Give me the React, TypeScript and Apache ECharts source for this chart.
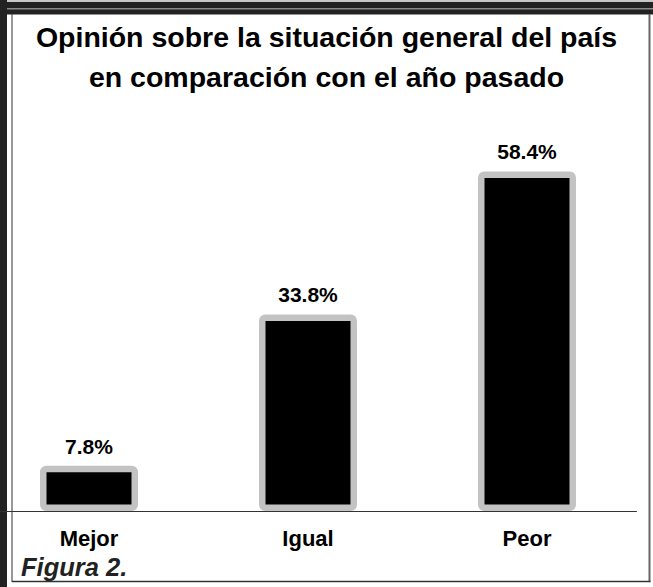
import React, { useEffect, useRef } from "react";
import * as echarts from "echarts";

const titleLines = ["Opinión sobre la situación general del país", "en comparación con el año pasado"];
const categories = ["Mejor", "Igual", "Peor"];
const values = [7.8, 33.8, 58.4];
const footnote = "Figura 2.";

export default function App() {
  const ref = useRef<HTMLDivElement>(null);
  useEffect(() => {
    if (!ref.current) return;
    const chart = echarts.init(ref.current, undefined, { renderer: "svg" });
    chart.setOption({
      animation: false,
      backgroundColor: "#fff",
      title: {
        text: titleLines.join("\n"),
        left: "center",
        top: 12,
        textStyle: {
          fontFamily: "'Liberation Sans', Arial, sans-serif",
          fontWeight: "bold",
          fontSize: 28.5,
          lineHeight: 40,
          color: "#000",
        },
      },
      grid: { left: -20.5, right: 16.5, top: 104, bottom: 76, outerBoundsMode: "none" },
      xAxis: {
        type: "category",
        data: categories,
        axisLine: { show: true, lineStyle: { color: "#333", width: 1 } },
        axisTick: { show: false },
        axisLabel: {
          margin: 16,
          fontFamily: "'Liberation Sans', Arial, sans-serif",
          fontWeight: "bold",
          fontSize: 22,
          color: "#000",
        },
      },
      yAxis: {
        type: "value",
        min: 0,
        max: 70,
        show: false,
        splitLine: { show: false },
      },
      series: [
        {
          type: "bar",
          data: values,
          barWidth: 98,
          itemStyle: { color: "#000", borderColor: "#c3c3c3", borderWidth: 6.5, borderRadius: 3 },
          label: {
            show: true,
            position: "top",
            distance: 9,
            formatter: (p: any) => p.value.toFixed(1) + "%",
            fontFamily: "'Liberation Sans', Arial, sans-serif",
            fontWeight: "bold",
            fontSize: 21,
            color: "#000",
          },
        },
      ],
      graphic: [
        { type: "rect", silent: true, shape: { x: 0, y: 0, width: 653, height: 2 }, style: { fill: "#c8c8c8" } },
        { type: "rect", silent: true, shape: { x: 0, y: 2, width: 653, height: 12.5 }, style: { fill: "#222" } },
        { type: "rect", silent: true, shape: { x: 6, y: 8, width: 647, height: 1.5 }, style: { fill: "#8a8a8a" } },
        { type: "rect", silent: true, shape: { x: 0, y: 0, width: 7, height: 587 }, style: { fill: "#222" } },
        { type: "line", silent: true, shape: { x1: 12, y1: 14, x2: 12, y2: 582 }, style: { stroke: "#333", lineWidth: 1 } },
        { type: "line", silent: true, shape: { x1: 649.5, y1: 14, x2: 649.5, y2: 582 }, style: { stroke: "#666", lineWidth: 2 } },
        { type: "line", silent: true, shape: { x1: 12, y1: 581.5, x2: 650.5, y2: 581.5 }, style: { stroke: "#333", lineWidth: 1.5 } },
        {
          type: "text",
          silent: true,
          x: 21,
          y: 567,
          style: {
            text: footnote,
            fontFamily: "'Liberation Sans', Arial, sans-serif",
            fontWeight: "bold",
            fontStyle: "italic",
            fontSize: 25.5,
            fill: "#222",
            verticalAlign: "middle",
          },
        },
      ],
    });
    return () => chart.dispose();
  }, []);
  return <div ref={ref} style={{ position: "fixed", left: 0, top: 0, width: 653, height: 587 }} />;
}
